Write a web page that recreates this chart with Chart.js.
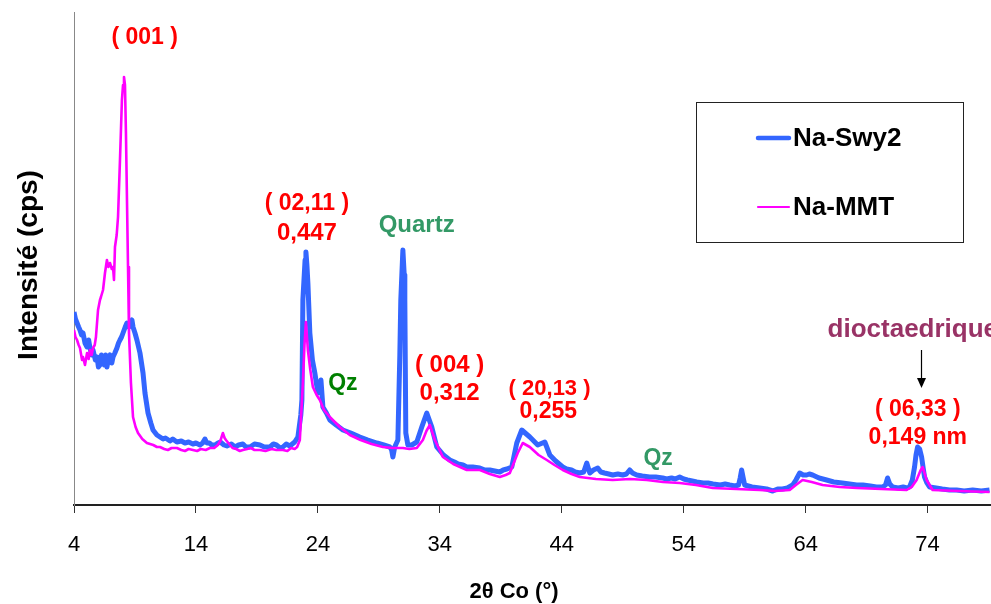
<!DOCTYPE html>
<html><head><meta charset="utf-8">
<script src="https://cdn.jsdelivr.net/npm/chart.js@4.4.0/dist/chart.umd.min.js"></script>
<style>html,body{margin:0;padding:0;background:#fff;}canvas{display:block;}</style>
</head><body>
<canvas id="c" width="991" height="604"></canvas>
<script>
// ---------- data ----------
const seriesNames = ['Na-Swy2', 'Na-MMT'];
const xTickValues = [4, 14, 24, 34, 44, 54, 64, 74];
const xTitle = '2θ Co (°)';
const yTitle = 'Intensité (cps)';

const swyTheta = [4.0,4.12,4.25,4.38,4.49,4.62,4.74,4.9,5.07,5.2,5.31,5.45,5.56,5.75,5.89,6.0,6.13,6.25,6.38,6.5,6.6,6.7,6.85,6.95,7.1,7.2,7.35,7.52,7.65,7.77,7.9,8.02,8.2,8.34,8.5,8.59,8.75,8.84,9.0,9.16,9.41,9.66,9.82,10.07,10.3,
  10.48,10.8,11.05,11.3,11.5,11.87,12.1,12.44,12.8,13.1,13.4,13.75,14.0,14.33,14.55,14.74,14.9,15.1,15.3,15.56,15.8,16.0,16.3,16.54,16.9,17.2,17.5,17.85,18.1,18.43,18.8,19.25,19.6,20.07,20.35,20.6,20.9,21.13,21.4,21.7,22.1,22.36,
  22.6,22.69,22.77,22.95,23.02,23.1,23.18,23.34,23.55,23.75,24.0,24.12,24.25,24.41,24.7,24.98,25.5,26.05,26.7,27.44,28.1,28.84,29.4,29.9,30.05,30.15,30.3,30.56,30.72,30.8,30.97,31.08,31.13,31.21,31.38,31.7,32.11,32.52,32.93,33.34,33.75,
  34.3,34.82,35.2,35.5,35.9,36.21,36.7,37.28,37.7,38.1,38.5,38.92,39.2,39.5,39.9,40.31,40.72,41.0,41.38,42.03,42.61,43.02,43.5,
  44.08,44.4,44.8,45.1,45.48,45.8,46.05,46.3,46.6,46.95,47.2,47.5,47.85,48.18,48.6,49.0,49.3,49.57,49.8,50.15,50.6,51.2,51.7,52.28,52.6,53.0,53.3,53.67,54.0,54.3,54.7,55.07,55.6,56.0,56.4,57.0,57.4,57.77,58.2,58.5,58.63,58.75,58.88,59.0,59.6,60.23,60.8,61.3,61.7,62.1,62.5,62.93,63.2,63.51,63.8,64.08,64.3,64.57,65.1,65.72,66.3,67.0,67.6,68.18,68.7,69.3,69.8,70.31,70.55,70.72,70.9,71.13,71.6,72.0,72.3,72.52,72.75,72.93,73.05,73.18,73.35,73.51,73.65,73.75,73.95,74.16,74.7,75.2,75.8,76.38,77.0,77.7,78.4,79.08];
const swyCps = [193,186,182,178,175,170,172,162,158,165,157,150,155,145,148,138,140,150,145,140,150,138,148,150,142,148,152,157,162,165,168,172,178,182,178,182,185,178,172,165,152,132,112,92,82,
  75,70,68,66,67,64,66,63,64,62,63,61,62,60,62,66,62,62,60,60,62,63,60,59,61,58,60,61,58,58,61,60,58,58,61,60,57,58,61,59,63,68,
  90,105,205,245,253,240,222,172,145,132,112,118,125,98,92,85,80,75,72,68,65,62,60,58,55,48,58,65,150,205,255,230,205,72,60,60,63,78,92,78,58,
  50,45,43,41,40,38,38,37,35,35,34,33,35,36,38,62,75,72,68,60,63,50,44,
  38,36,35,33,32,33,42,32,35,37,33,32,31,30,31,30,31,35,32,30,29,28,28,27,26,27,26,28,26,25,24,23,22,22,21,20,21,20,19,20,27,35,27,20,18,17,16,14,16,16,17,20,25,32,30,30,31,30,27,25,23,22,21,20,20,19,18,18,20,27,21,18,17,18,17,18,25,38,50,58,56,48,36,28,22,18,17,16,15,15,14,15,14,15];

const mmtTheta = [4.0,4.12,4.25,4.38,4.49,4.66,4.74,4.9,5.07,5.2,5.31,5.45,5.56,5.7,5.8,5.97,6.13,6.21,6.38,6.54,6.7,6.82,6.95,7.1,7.2,7.28,7.36,7.5,7.61,7.77,7.93,8.02,8.1,8.18,8.26,8.43,8.51,8.67,8.84,9.05,9.25,9.6,9.98,
  10.5,10.8,11.05,11.4,11.7,12.0,12.44,12.8,13.1,13.4,13.75,14.1,14.4,14.8,15.15,15.5,15.8,16.0,16.21,16.35,16.46,16.79,17.0,17.3,17.6,17.85,18.2,18.5,18.8,19.25,19.7,20.2,20.6,21.13,21.5,21.8,22.1,22.3,
  22.52,22.77,22.9,23.02,23.18,23.38,23.59,23.9,24.16,24.5,24.98,25.8,26.62,27.5,28.4,29.33,30.1,30.97,31.5,32.11,32.61,32.9,33.18,33.4,33.59,34.25,35.1,36.21,37.28,38.1,38.92,39.4,39.74,40.39,40.8,41.38,42.1,42.77,43.4,44.08,44.8,45.48,46.8,48.18,49.6,50.97,52.3,53.67,55.0,56.38,58.3,60.23,61.5,62.69,63.2,63.75,64.5,65.39,66.8,68.18,70.2,72.28,72.7,73.1,73.4,73.59,73.75,73.92,74.41,76.5,79.08];
const mmtCps = [175,168,165,160,157,145,148,140,152,146,155,150,157,160,168,195,205,208,215,232,245,238,242,236,238,225,258,270,288,345,405,420,428,420,372,238,172,122,88,78,72,66,62,
  60,58,58,56,55,57,57,55,54,56,55,54,56,55,57,57,60,64,72,67,65,60,57,56,54,55,56,57,55,55,54,56,55,55,54,57,56,58,
  65,122,160,183,155,135,118,110,105,95,88,78,70,65,61,58,57,57,56,57,65,74,80,72,65,48,41,35,35,31,28,30,32,52,62,58,50,45,40,35,31,28,26,25,26,25,23,22,20,17,16,15,14,15,20,25,23,20,18,17,16,15,18,25,34,38,32,25,15,14,13];

// annotation texts (anchored in data units: 2theta, intensity)
const noteTexts = ['( 001 )', '( 02,11 )', '0,447', 'Quartz', 'Qz', '( 004 )', '0,312', '( 20,13 )', '0,255', 'Qz', 'dioctaedrique', '( 06,33 )', '0,149 nm'];
const noteTheta = [9.8, 23.1, 23.1, 32.1, 26.05, 34.8, 34.8, 43.0, 42.9, 51.9, 65.8, 73.2, 73.2];
const noteCps   = [467, 301, 272, 280, 121, 140, 112, 116, 93, 46, 175, 95, 67];
const arrowTheta = 73.5, arrowFrom = 155, arrowTo = 117;

// ---------- styles ----------
const FONT = "'Liberation Sans', Arial, Helvetica, sans-serif";
const noteStyle = [
  ['#ff0000', 23, 'center'], ['#ff0000', 23, 'center'], ['#ff0000', 24, 'center'],
  ['#339966', 24, 'center'], ['#008000', 23, 'center'],
  ['#ff0000', 24, 'center'], ['#ff0000', 24, 'center'],
  ['#ff0000', 22, 'center'], ['#ff0000', 23, 'center'],
  ['#339966', 23, 'center'], ['#993366', 26, 'left'],
  ['#ff0000', 23, 'center'], ['#ff0000', 23, 'center']
];

Chart.defaults.font.family = FONT;
Chart.defaults.color = '#000';

const toPoints = (xs, ys) => xs.map((v, i) => ({x: v, y: ys[i]}));

const decor = {
  id: 'decor',
  afterDraw(chart) {
    const {ctx, scales: {x, y}} = chart;
    ctx.save();
    // annotations
    noteTexts.forEach((t, i) => {
      const [col, size, align] = noteStyle[i];
      ctx.font = `bold ${size}px ${FONT}`;
      ctx.fillStyle = col;
      ctx.textAlign = align;
      ctx.textBaseline = 'middle';
      ctx.fillText(t, x.getPixelForValue(noteTheta[i]), y.getPixelForValue(noteCps[i]));
    });
    // arrow
    const ax = Math.round(x.getPixelForValue(arrowTheta)) + 0.5;
    const ay1 = y.getPixelForValue(arrowFrom), ay2 = y.getPixelForValue(arrowTo);
    ctx.strokeStyle = '#000'; ctx.fillStyle = '#000'; ctx.lineWidth = 1.2;
    ctx.beginPath(); ctx.moveTo(ax, ay1); ctx.lineTo(ax, ay2 - 8); ctx.stroke();
    ctx.beginPath(); ctx.moveTo(ax - 4.5, ay2 - 10); ctx.lineTo(ax + 4.5, ay2 - 10); ctx.lineTo(ax, ay2); ctx.closePath(); ctx.fill();
    // legend
    const ca = chart.chartArea;
    const bx = ca.right - 295, by = ca.top + 90, bw = 267, bh = 140;
    ctx.lineWidth = 1; ctx.strokeStyle = '#222';
    ctx.strokeRect(bx + 0.5, by + 0.5, bw, bh);
    chart.data.datasets.forEach((ds, i) => {
      const ly = by + 36 + i * 69;
      ctx.strokeStyle = ds.borderColor; ctx.lineWidth = i === 0 ? 4.5 : 2.2; ctx.lineCap = 'round';
      ctx.beginPath(); ctx.moveTo(bx + 62, ly); ctx.lineTo(bx + 93, ly); ctx.stroke();
      ctx.font = `bold 26px ${FONT}`; ctx.fillStyle = '#000';
      ctx.textAlign = 'left'; ctx.textBaseline = 'middle';
      ctx.fillText(ds.label, bx + 97, ly + 1);
    });
    // axis titles
    ctx.font = `bold 22px ${FONT}`; ctx.fillStyle = '#000'; ctx.textAlign = 'center'; ctx.textBaseline = 'middle';
    ctx.fillText(xTitle, 514, 592);
    ctx.translate(29, 265); ctx.rotate(-Math.PI / 2);
    ctx.font = `bold 28px ${FONT}`;
    ctx.fillText(yTitle, 0, 0);
    ctx.restore();
  }
};

new Chart(document.getElementById('c'), {
  type: 'line',
  data: {
    datasets: [
      {label: seriesNames[0], data: toPoints(swyTheta, swyCps), borderColor: '#3366ff', borderWidth: 5, order: 1},
      {label: seriesNames[1], data: toPoints(mmtTheta, mmtCps), borderColor: '#ff00ff', borderWidth: 2.6, order: 0}
    ]
  },
  options: {
    responsive: false,
    animation: false,
    devicePixelRatio: 1,
    layout: {padding: {top: 12, right: 0, left: 0, bottom: 0}},
    elements: {point: {radius: 0}, line: {tension: 0, borderJoinStyle: 'round'}},
    plugins: {legend: {display: false}, tooltip: {enabled: false}},
    scales: {
      x: {
        type: 'linear', min: 4, max: 79.2,
        afterBuildTicks: (axis) => { axis.ticks = xTickValues.map(v => ({value: v})); },
        afterFit: (axis) => { axis.height = 99; },
        ticks: {font: {size: 22}, color: '#000', padding: 19, maxRotation: 0, autoSkip: false},
        grid: {drawOnChartArea: false, drawTicks: true, tickLength: 8, color: '#333'},
        border: {color: '#222', width: 2}
      },
      y: {
        min: 0, max: 493,
        afterFit: (axis) => { axis.width = 74; },
        ticks: {display: false},
        grid: {display: false},
        border: {color: '#888', width: 1},
        title: {display: false}
      }
    }
  },
  plugins: [decor]
});
</script>
</body></html>
